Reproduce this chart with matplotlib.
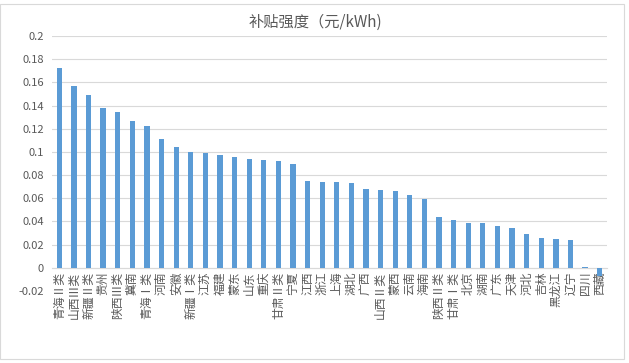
import matplotlib
matplotlib.use('Agg')
import matplotlib.pyplot as plt
from matplotlib.patches import Rectangle
import numpy as np

plt.rcParams['font.family'] = ['Noto Sans CJK SC', 'DejaVu Sans']

# data
regions = ['青海Ⅱ类', '山西Ⅲ类', '新疆Ⅱ类', '贵州', '陕西Ⅲ类', '冀南', '青海Ⅰ类', '河南',
           '安徽', '新疆Ⅰ类', '江苏', '福建', '蒙东', '山东', '重庆', '甘肃Ⅱ类', '宁夏',
           '江西', '浙江', '上海', '湖北', '广西', '山西Ⅱ类', '蒙西', '云南', '海南',
           '陕西Ⅱ类', '甘肃Ⅰ类', '北京', '湖南', '广东', '天津', '河北', '吉林', '黑龙江',
           '辽宁', '四川', '西藏']
subsidy = [0.172, 0.157, 0.149, 0.138, 0.134, 0.127, 0.122, 0.111,
           0.104, 0.100, 0.099, 0.097, 0.096, 0.094, 0.093, 0.092, 0.090,
           0.075, 0.074, 0.074, 0.073, 0.068, 0.067, 0.066, 0.063, 0.059,
           0.044, 0.041, 0.039, 0.039, 0.036, 0.034, 0.029, 0.026, 0.025,
           0.024, 0.001, -0.007]
yticks = [-0.02, 0, 0.02, 0.04, 0.06, 0.08, 0.1, 0.12, 0.14, 0.16, 0.18, 0.2]
title = '补贴强度（元/kWh)'

grey_text = '#595959'
grid_col = '#d9d9d9'

fig = plt.figure(figsize=(6.29, 3.63), dpi=100)
ax = fig.add_axes([52/629, 72/363, (607-52)/629, (327-72)/363])

# chart area border
fig.patches.append(Rectangle((0.0, 0.012), 0.992, 0.976, transform=fig.transFigure,
                             fill=False, ec=grid_col, lw=0.8))

x = np.arange(len(regions))
ax.bar(x, subsidy, width=0.36, color='#5b9bd5', zorder=3)

ax.set_ylim(-0.02, 0.2)
ax.set_xlim(-0.5, len(regions) - 0.5)
ax.set_yticks(yticks)
ax.set_yticklabels(['%g' % round(v, 2) for v in yticks])
ax.yaxis.grid(True, color=grid_col, lw=0.8, zorder=0)
ax.tick_params(axis='y', length=0, pad=6, labelsize=8, labelcolor=grey_text)

# category axis sits on the zero line
ax.spines['bottom'].set_position(('data', 0))
ax.spines['bottom'].set_color(grid_col)
for s in ['top', 'right', 'left']:
    ax.spines[s].set_visible(False)
ax.set_xticks(x)
ax.set_xticklabels(regions, rotation=90, fontsize=8.5, color=grey_text)
ax.tick_params(axis='x', length=0, pad=3)

fig.text(315/629, 1 - 22/363, title, ha='center', va='center', fontsize=11, color=grey_text)

plt.savefig('out.png', dpi=100)
